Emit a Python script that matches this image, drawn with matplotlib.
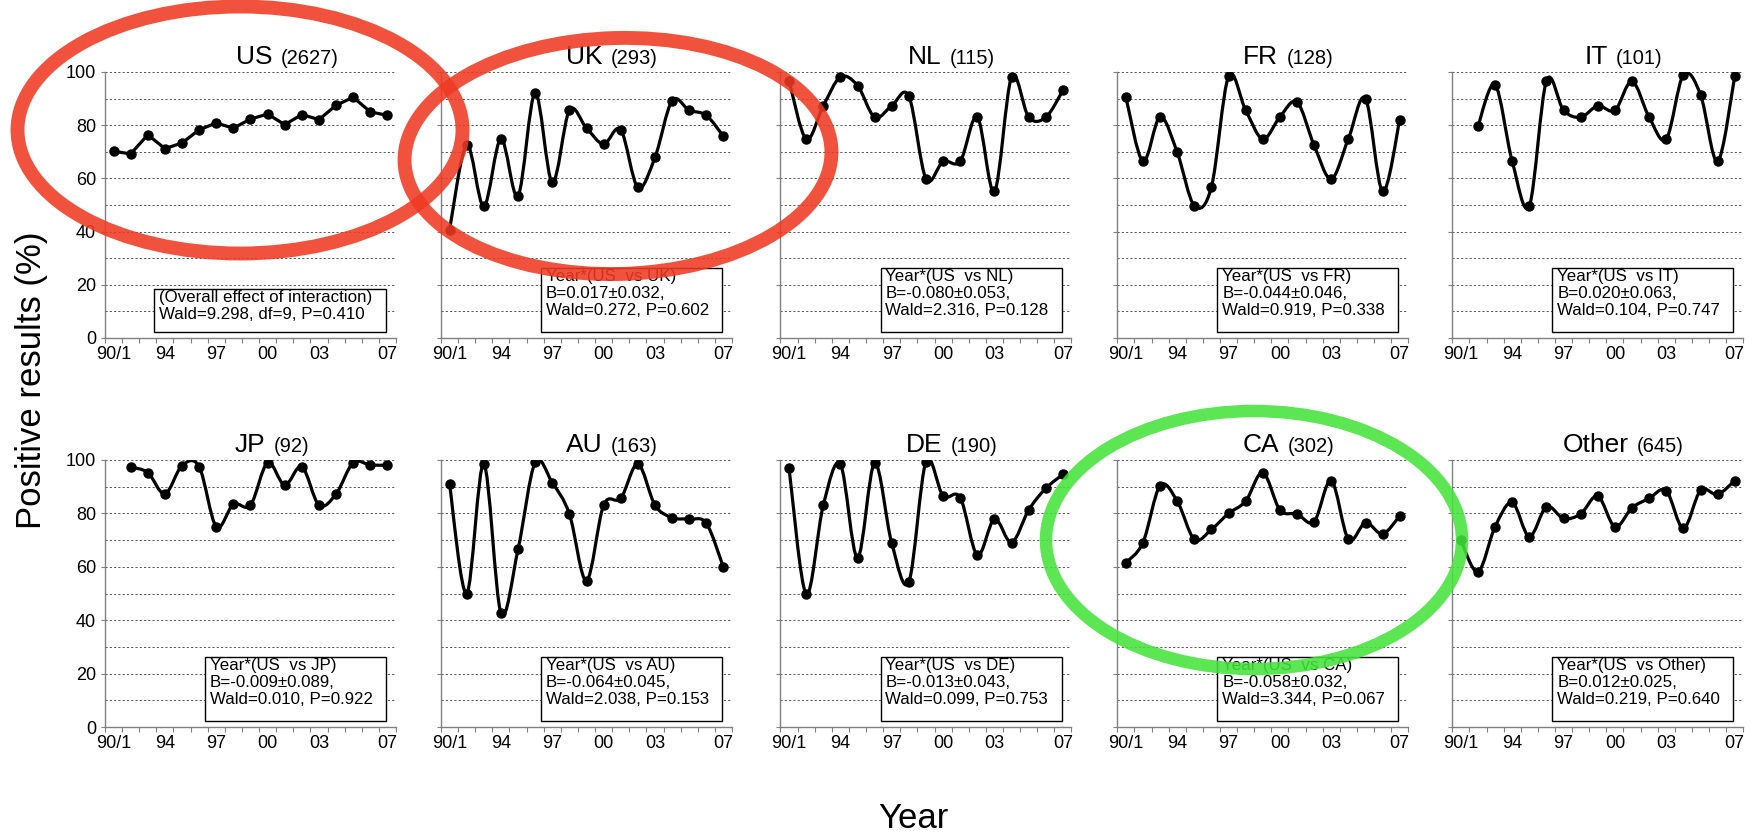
import numpy as np
import matplotlib
matplotlib.use("Agg")
import matplotlib.pyplot as plt
from matplotlib.path import Path
from matplotlib.patches import PathPatch, Ellipse, Rectangle
from matplotlib.offsetbox import TextArea, HPacker, AnnotationBbox
import matplotlib.transforms as mtransforms

plt.rcParams['font.family'] = ['Liberation Sans', 'DejaVu Sans']

# ---------------- data ----------------
years = ['90/1', '92', '93', '94', '95', '96', '97', '98', '99',
         '00', '01', '02', '03', '04', '05', '06', '07']
shown_year_labels = ['90/1', '94', '97', '00', '03', '07']

names = ['US', 'UK', 'NL', 'FR', 'IT', 'JP', 'AU', 'DE', 'CA', 'Other']
counts = ['(2627)', '(293)', '(115)', '(128)', '(101)',
          '(92)', '(163)', '(190)', '(302)', '(645)']

us = [70.2, 69.2, 76.4, 71.2, 73.3, 78.3, 80.8, 78.9, 82.3, 84.2, 80.2, 84.0, 82.1, 87.5, 90.5, 85.0, 83.7]
uk = [40.7, 72.6, 49.5, 74.9, 53.5, 92.1, 58.5, 85.6, 78.9, 72.9, 78.3, 56.6, 67.9, 89.2, 85.6, 83.7, 75.8]
nl = [96.7, 74.8, 87.3, 98.1, 94.9, 83.0, 87.3, 90.9, 59.8, 66.4, 66.4, 83.1, 55.1, 98.1, 83.0, 83.0, 93.1]
fr = [90.6, 66.4, 83.1, 69.8, 49.7, 56.8, 98.4, 85.6, 74.8, 83.1, 88.7, 72.4, 59.8, 74.9, 90.0, 55.1, 82.1]
it = [None, 79.6, 95.2, 66.4, 49.7, 96.7, 85.6, 83.0, 87.3, 85.6, 96.5, 83.0, 74.8, 99.0, 91.5, 66.4, 98.4]
jp = [None, 97.3, 95.3, 87.3, 97.9, 97.5, 75.0, 83.4, 83.1, 99.0, 90.6, 97.5, 83.1, 87.3, 99.0, 98.1, 98.1]
au = [90.9, 50.0, 98.5, 42.8, 66.5, 99.1, 91.5, 79.8, 54.8, 83.1, 85.6, 98.5, 83.1, 78.4, 77.8, 76.3, 59.8]
de = [96.9, 49.8, 83.1, 98.4, 63.4, 98.8, 68.8, 54.4, 99.4, 86.5, 85.9, 64.4, 77.9, 69.1, 81.3, 89.4, 94.6]
ca = [61.5, 69.1, 90.4, 84.6, 70.3, 74.0, 80.0, 84.6, 95.3, 81.3, 79.8, 76.9, 92.3, 70.3, 76.5, 72.3, 79.1]
other = [70.0, 58.1, 75.0, 84.1, 71.3, 82.5, 78.1, 79.8, 86.5, 75.0, 82.1, 85.6, 88.5, 74.4, 88.6, 87.1, 92.3]
series = [us, uk, nl, fr, it, jp, au, de, ca, other]
smoothed = [False, True, True, True, True, True, True, True, True, True]

stats = [
    "(Overall effect of interaction)\nWald=9.298, df=9, P=0.410",
    "Year*(US  vs UK)\nB=0.017\u00b10.032,\nWald=0.272, P=0.602",
    "Year*(US  vs NL)\nB=-0.080\u00b10.053,\nWald=2.316, P=0.128",
    "Year*(US  vs FR)\nB=-0.044\u00b10.046,\nWald=0.919, P=0.338",
    "Year*(US  vs IT)\nB=0.020\u00b10.063,\nWald=0.104, P=0.747",
    "Year*(US  vs JP)\nB=-0.009\u00b10.089,\nWald=0.010, P=0.922",
    "Year*(US  vs AU)\nB=-0.064\u00b10.045,\nWald=2.038, P=0.153",
    "Year*(US  vs DE)\nB=-0.013\u00b10.043,\nWald=0.099, P=0.753",
    "Year*(US  vs CA)\nB=-0.058\u00b10.032,\nWald=3.344, P=0.067",
    "Year*(US  vs Other)\nB=0.012\u00b10.025,\nWald=0.219, P=0.640",
]

# ---------------- layout (pixels) ----------------
W, H = 1756, 833
col_left = [105, 441, 780.5, 1117.3, 1452.3]
ax_w = 291
row_top = [72, 460]
row_bot = [338, 727]

fig = plt.figure(figsize=(W / 100, H / 100), dpi=100)


def fx(x):
    return x / W


def fy(y):
    return 1 - y / H


def smooth_path(xv, yv):
    P = np.array([(a, b) for a, b in zip(xv, yv) if b is not None], float)
    n = len(P)
    verts = [P[0]]
    codes = [Path.MOVETO]
    for i in range(n - 1):
        p0 = P[i - 1] if i > 0 else P[i]
        p1 = P[i]
        p2 = P[i + 1]
        p3 = P[i + 2] if i + 2 < n else P[i + 1]
        c1 = p1 + (p2 - p0) / 6.0
        c2 = p2 - (p3 - p1) / 6.0
        verts += [c1, c2, p2]
        codes += [Path.CURVE4] * 3
    return Path(verts, codes)


xpos = np.arange(len(years))
title_center = [0.625, 0.588, 0.588, 0.588, 0.588, 0.574, 0.588, 0.588, 0.588, 0.588]

for k, (name, cnt, vals) in enumerate(zip(names, counts, series)):
    r, c = divmod(k, 5)
    x0 = col_left[c]
    ax = fig.add_axes([fx(x0), fy(row_bot[r]), ax_w / W, (row_bot[r] - row_top[r]) / H])
    ax.set_xlim(-0.5, len(years) - 0.5)
    ax.set_ylim(0, 100)

    yv = np.array([np.nan if v is None else v for v in vals], float)
    if smoothed[k]:
        ax.add_patch(PathPatch(smooth_path(xpos, vals), fill=False, ec='black',
                               lw=2.3, capstyle='round', joinstyle='round', zorder=3))
        ax.plot(xpos, yv, 'o', color='black', ms=6.5, zorder=4)
    else:
        ax.plot(xpos, yv, '-o', color='black', lw=2.3, ms=6.5, zorder=4)

    ax.set_yticks(range(0, 101, 20))
    ax.set_yticks(range(0, 101, 10), minor=True)
    ax.yaxis.grid(True, which='both', ls=(0, (2.2, 2.2)), color='#555555', lw=0.7)
    ax.set_axisbelow(True)
    ax.set_xticks(xpos)
    ax.set_xticklabels([y if y in shown_year_labels else '' for y in years])
    ax.set_xticks(np.arange(-0.5, len(years)), minor=True)
    ax.tick_params(axis='x', which='major', length=0, pad=6, labelsize=13)
    ax.tick_params(axis='x', which='minor', length=3.5, width=0.8, color='#808080', direction='out')
    ax.tick_params(axis='y', which='major', length=3, width=0.8, color='#808080', pad=3.5,
                   labelsize=13, labelleft=(c == 0))
    ax.tick_params(axis='y', which='minor', length=0)
    for s in ['top', 'right']:
        ax.spines[s].set_visible(False)
    for s in ['left', 'bottom']:
        ax.spines[s].set_color('#808080')
        ax.spines[s].set_linewidth(1.0)

    # title
    pack = HPacker(children=[TextArea(name, textprops=dict(size=19)),
                             TextArea(cnt, textprops=dict(size=14.5))],
                   align='baseline', pad=0, sep=6)
    ab = AnnotationBbox(pack, (title_center[k], 1), xycoords='axes fraction',
                        xybox=(0, 2.5), boxcoords='offset points',
                        box_alignment=(0.5, 0), frameon=False, pad=0)
    ax.add_artist(ab)

    # statistics box
    if k == 0:
        bx, bw, bh = x0 + 49, 232, 43
    else:
        bx, bw, bh = x0 + 100, 181, 64
    btop = row_bot[r] - 6 - bh
    fig.add_artist(Rectangle((fx(bx), fy(btop + bh)), bw / W, bh / H, transform=fig.transFigure,
                             fc='white', ec='black', lw=1.0, zorder=5))
    fig.text(fx(bx + 5), fy(btop + 1), stats[k], ha='left', va='top', fontsize=12.2,
             linespacing=1.17, zorder=6)

# axis titles
fig.text(fx(32), fy(380), 'Positive results (%)', rotation=90, ha='center', va='center',
         fontsize=25)
fig.text(fx(913), fy(818), 'Year', ha='center', va='center', fontsize=25)

# hand-drawn highlight ellipses
ident = mtransforms.IdentityTransform()
for (cx, cy, ew, eh, ang, col, lw) in [
        (240, 130, 445, 247, 0, '#ef3a22', 10),
        (618, 156, 427, 236, 1.5, '#ef3a22', 10),
        (1254, 540, 416, 258, 0, '#45e33b', 9)]:
    fig.add_artist(Ellipse((cx, H - cy), ew, eh, angle=ang, transform=ident,
                           fill=False, ec=col, lw=lw, alpha=0.88, zorder=10))

fig.savefig('out.png', dpi=100)
